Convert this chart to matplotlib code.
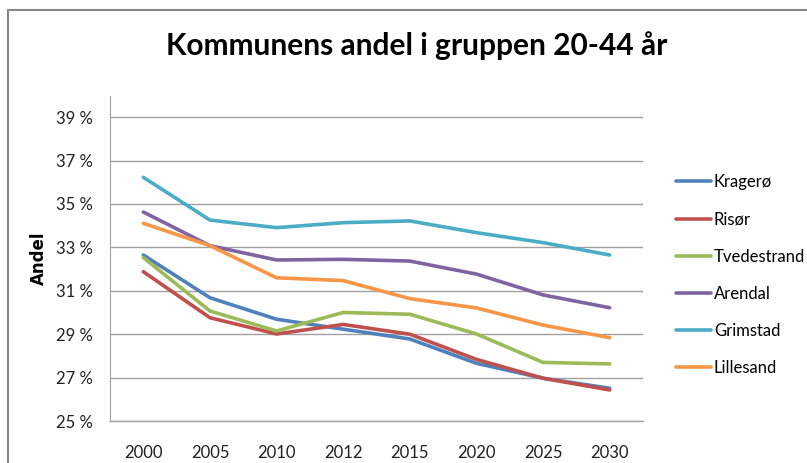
import matplotlib
matplotlib.use("Agg")
import matplotlib.pyplot as plt
from matplotlib.patches import Rectangle
from matplotlib.ticker import FuncFormatter

plt.rcParams['font.family'] = ['Lato', 'DejaVu Sans']

years = ["2000", "2005", "2010", "2012", "2015", "2020", "2025", "2030"]
kragero = [32.65, 30.68, 29.69, 29.23, 28.78, 27.66, 26.97, 26.51]
risor = [31.88, 29.76, 29.01, 29.45, 29.00, 27.84, 26.97, 26.43]
tvedestrand = [32.53, 30.07, 29.15, 30.00, 29.92, 29.01, 27.70, 27.63]
arendal = [34.63, 33.08, 32.42, 32.45, 32.37, 31.77, 30.81, 30.22]
grimstad = [36.23, 34.26, 33.91, 34.14, 34.22, 33.68, 33.22, 32.65]
lillesand = [34.11, 33.08, 31.60, 31.47, 30.64, 30.21, 29.42, 28.84]

names = ["Kragerø", "Risør", "Tvedestrand", "Arendal", "Grimstad", "Lillesand"]
series = [kragero, risor, tvedestrand, arendal, grimstad, lillesand]
colors = ["#4F81BD", "#C0504D", "#9BBB59", "#8064A2", "#4BACC6", "#F79646"]

fig = plt.figure(figsize=(8.07, 4.63), dpi=100)
ax = fig.add_axes([110 / 807, 1 - 421 / 463, 533 / 807, (421 - 95.5) / 463])

x = list(range(len(years)))
for name, vals, c in zip(names, series, colors):
    ax.plot(x, vals, color=c, lw=2.6, label=name, solid_capstyle='round')

ax.set_xlim(-0.5, len(years) - 0.5)
ax.set_ylim(25, 40)
ax.set_yticks([25, 27, 29, 31, 33, 35, 37, 39])
ax.yaxis.set_major_formatter(FuncFormatter(lambda v, p: f"{v:.0f} %"))
ax.set_xticks(x)
ax.set_xticklabels(years)
ax.grid(axis='y', color='#A0A0A0', lw=1)
ax.axhline(25, color='#A0A0A0', lw=1, clip_on=False, zorder=0.5)
ax.set_axisbelow(True)
ax.tick_params(length=0, labelsize=12, colors='#222222', pad=12)
ax.tick_params(axis='x', pad=17)
for s in ['top', 'right', 'bottom']:
    ax.spines[s].set_visible(False)
ax.spines['left'].set_color('#A0A0A0')

ax.set_ylabel("Andel", fontsize=12, fontweight='bold', family='DejaVu Sans', labelpad=6)

fig.text(417 / 807, 1 - 46 / 463, "Kommunens andel i gruppen 20-44 år",
         ha='center', va='center', fontsize=21.5, fontweight='bold')

ax.legend(loc='upper left', bbox_to_anchor=(668 / 807, 1 - 166 / 463),
          bbox_transform=fig.transFigure, frameon=False, fontsize=12,
          handlelength=2.05, handletextpad=0.2, labelspacing=1.27,
          borderpad=0)

fig.add_artist(Rectangle((8 / 807, -0.5), 2, 1.5 - 10 / 463,
                         transform=fig.transFigure, fill=False,
                         edgecolor='#888888', lw=1.5))

fig.savefig("out.png", dpi=100)
